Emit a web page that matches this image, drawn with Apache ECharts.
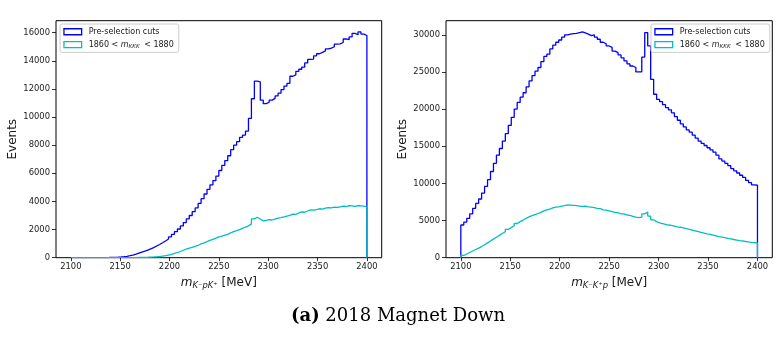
<!DOCTYPE html>
<html><head><meta charset="utf-8">
<script src="https://cdn.jsdelivr.net/npm/echarts@6/dist/echarts.min.js"></script>
<style>html,body{margin:0;padding:0;background:#fff}#c{width:784px;height:338px}</style>
</head><body><div id="c"></div>
<script>
// ---- data ----
const binStart = 2100;
const binWidth = 3;
const xTicks = [2100, 2150, 2200, 2250, 2300, 2350, 2400];
const yTicksLeft = [0, 2000, 4000, 6000, 8000, 10000, 12000, 14000, 16000];
const yTicksRight = [0, 5000, 10000, 15000, 20000, 25000, 30000];
const seriesNames = ['Pre-selection cuts', '1860 < m_KKK < 1880'];

// left panel: m(K- p K+)
const kpkPre = [
  0, 0, 0, 0, 0, 1, 2, 3, 4, 6,
  8, 12, 16, 22, 30, 40, 55, 75, 100, 140,
  190, 250, 320, 390, 460, 540, 630, 720, 830, 940,
  1060, 1190, 1330, 1480, 1660, 1850, 2040, 2260, 2500, 2760,
  3000, 3270, 3540, 3860, 4200, 4530, 4860, 5180, 5480, 5800,
  6200, 6560, 6900, 7250, 7680, 8000, 8250, 8560, 8720, 9000,
  9900, 11300, 12550, 12500, 11200, 10950, 11050, 11200, 11330, 11500,
  11700, 11950, 12200, 12400, 12900, 13000, 13250, 13400, 13550, 13850,
  14100, 14120, 14350, 14500, 14600, 14700, 14850, 14900, 15000, 15180,
  15200, 15300, 15550, 15500, 15700, 15950, 15850, 16050, 15900, 15800
];
const kpkSel = [
  0, 0, 0, 0, 0, 0, 0, 0, 0, 0,
  0, 0, 1, 1, 2, 2, 3, 4, 5, 7,
  9, 12, 16, 20, 26, 33, 42, 52, 65, 85,
  110, 145, 190, 235, 300, 370, 440, 530, 610, 680,
  740, 800, 870, 990, 1060, 1140, 1230, 1300, 1390, 1480,
  1530, 1600, 1660, 1760, 1850, 1920, 2000, 2080, 2180, 2260,
  2400, 2760, 2880, 2750, 2620, 2650, 2700, 2680, 2750, 2810,
  2850, 2900, 2960, 3010, 3100, 3080, 3180, 3250, 3230, 3320,
  3400, 3380, 3420, 3480, 3450, 3520, 3560, 3540, 3600, 3570,
  3620, 3660, 3640, 3700, 3680, 3650, 3710, 3690, 3660, 3620
];
// right panel: m(K- K+ p)
const kkpPre = [
  4400, 4800, 5300, 5900, 6650, 7300, 7900, 8700, 9600, 10500,
  11600, 12700, 13800, 14700, 15700, 16700, 17800, 18900, 20000, 20900,
  21600, 22200, 23000, 23800, 24500, 25100, 25600, 26400, 27100, 27400,
  28100, 28600, 29000, 29300, 29700, 30000, 30100, 30150, 30200, 30300,
  30400, 30250, 30100, 29900, 30000, 29700, 29400, 29000, 28800, 28500,
  28300, 27800, 27600, 27300, 26900, 26500, 26100, 25800, 25600, 25000,
  25000, 27000, 30300, 28500, 24000, 22000, 21300, 21000, 20600, 20200,
  19900, 19500, 19000, 18500, 18000, 17600, 17200, 16900, 16500, 16100,
  15700, 15400, 15100, 14800, 14500, 14200, 13800, 13300, 13000, 12700,
  12400, 12000, 11700, 11400, 11100, 10800, 10400, 10100, 9800, 9750
];
const kkpSel = [
  300, 500, 700, 900, 1100, 1280, 1500, 1750, 2000, 2250,
  2500, 2750, 3000, 3250, 3500, 3800, 4050, 4300, 4600, 4850,
  5050, 5300, 5500, 5650, 5800, 5950, 6100, 6300, 6450, 6550,
  6700, 6800, 6850, 6950, 7000, 7100, 7080, 7050, 7000, 6950,
  6900, 6950, 6850, 6800, 6750, 6650, 6600, 6450, 6400, 6300,
  6200, 6100, 6050, 5900, 5900, 5750, 5700, 5550, 5450, 5400,
  5450, 5900, 6150, 5600, 5100, 4850, 4700, 4600, 4500, 4400,
  4350, 4250, 4150, 4100, 4000, 3900, 3800, 3700, 3600, 3500,
  3400, 3300, 3200, 3150, 3050, 2950, 2850, 2780, 2700, 2600,
  2530, 2450, 2380, 2300, 2250, 2180, 2120, 2070, 2030, 1980
];

// ---- styling ----
const BLUE = '#0000ff';
const CYAN = '#00bfbf';
const TXT = '#1a1a1a';
const FONT = 'DejaVu Sans';

function stairs(values) {
  const pts = [[binStart, 0]];
  values.forEach(function (v, i) {
    const a = binStart + i * binWidth;
    pts.push([a, v], [a + binWidth, v]);
  });
  pts.push([binStart + values.length * binWidth, 0]);
  return pts;
}
function plain(v) { return String(v); }

function xAxisFor(idx, sub) {
  return {
    gridIndex: idx, type: 'value', min: 2085, max: 2415,
    axisLine: { show: false }, splitLine: { show: false },
    axisTick: { show: true, length: 3.5, customValues: xTicks, lineStyle: { color: '#000', width: 0.8 } },
    axisLabel: { customValues: xTicks, formatter: plain, fontSize: 8.4, fontFamily: FONT, color: TXT, margin: 5 },
    name: '{m|m}{s|' + sub + '}{t| [MeV]}',
    nameLocation: 'middle', nameGap: 15.5,
    nameTextStyle: {
      fontFamily: FONT, fontSize: 12, color: TXT, lineHeight: 14,
      rich: {
        m: { fontFamily: FONT, fontStyle: 'italic', fontSize: 12, color: TXT, lineHeight: 14 },
        s: { fontFamily: FONT, fontStyle: 'italic', fontSize: 8.4, color: TXT, lineHeight: 8, verticalAlign: 'bottom' },
        t: { fontFamily: FONT, fontSize: 12, color: TXT, lineHeight: 14 }
      }
    }
  };
}
function yAxisFor(idx, max, ticks) {
  return {
    gridIndex: idx, type: 'value', min: 0, max: max,
    axisLine: { show: false }, splitLine: { show: false },
    axisTick: { show: true, length: 4, customValues: ticks, lineStyle: { color: '#000', width: 0.8 } },
    axisLabel: { customValues: ticks, formatter: plain, fontSize: 8.4, fontFamily: FONT, color: TXT, margin: 6 },
    name: 'Events', nameLocation: 'middle', nameGap: 37.5, nameRotate: 90,
    nameTextStyle: { fontFamily: FONT, fontSize: 12, color: TXT }
  };
}
function legendFor(pos) {
  return Object.assign({
    top: 24, orient: 'vertical', icon: 'rect',
    itemWidth: 17.7, itemHeight: 6, itemGap: 2.4,
    padding: [2.5, 5, 2.5, 3.3],
    backgroundColor: 'rgba(255,255,255,0.8)', borderColor: '#cccccc', borderWidth: 1, borderRadius: 2,
    selectedMode: false,
    data: [
      { name: seriesNames[0], itemStyle: { color: 'rgba(0,0,0,0)', borderColor: BLUE, borderWidth: 1.3 } },
      { name: seriesNames[1], itemStyle: { color: 'rgba(0,0,0,0)', borderColor: CYAN, borderWidth: 1.3 } }
    ],
    formatter: function (n) {
      return n === seriesNames[1] ? '{r|1860 < }{i|m}{s|KKK}{r| < 1880}' : '{r|' + n + '}';
    },
    textStyle: {
      fontFamily: FONT, fontSize: 8, color: TXT, lineHeight: 10.5,
      rich: {
        r: { fontFamily: FONT, fontSize: 8, color: TXT, lineHeight: 10.5, padding: [0, 0, 0, 2] },
        i: { fontFamily: FONT, fontStyle: 'italic', fontSize: 8, color: TXT, lineHeight: 10.5 },
        s: { fontFamily: FONT, fontStyle: 'italic', fontSize: 5.6, color: TXT, lineHeight: 6, verticalAlign: 'bottom' }
      }
    }
  }, pos);
}
function lineSeries(name, xi, data, color) {
  return {
    type: 'line', name: name, xAxisIndex: xi, yAxisIndex: xi,
    data: stairs(data), symbol: 'none', showSymbol: false, silent: true, clip: true,
    lineStyle: { color: color, width: 1.3 }, itemStyle: { color: color }
  };
}

const chart = echarts.init(document.getElementById('c'), null, { renderer: 'canvas' });
chart.setOption({
  animation: false,
  backgroundColor: '#ffffff',
  grid: [
    { left: 56, top: 20.7, width: 325.7, height: 237, show: true, borderColor: '#000', borderWidth: 1, backgroundColor: 'transparent' },
    { left: 446, top: 20.7, width: 326.3, height: 237, show: true, borderColor: '#000', borderWidth: 1, backgroundColor: 'transparent' }
  ],
  xAxis: [xAxisFor(0, 'K\u207BpK\u207A'), xAxisFor(1, 'K\u207BK\u207Ap')],
  yAxis: [yAxisFor(0, 16850, yTicksLeft), yAxisFor(1, 31900, yTicksRight)],
  legend: [legendFor({ left: 60 }), legendFor({ left: 651 })],
  series: [
    lineSeries(seriesNames[0], 0, kpkPre, BLUE),
    lineSeries(seriesNames[1], 0, kpkSel, CYAN),
    lineSeries(seriesNames[0], 1, kkpPre, BLUE),
    lineSeries(seriesNames[1], 1, kkpSel, CYAN)
  ],
  graphic: [{
    type: 'text', x: 398, y: 316, silent: true,
    style: {
      text: '{b|(a)} 2018 Magnet Down',
      fontFamily: 'DejaVu Serif', fontSize: 18, fill: '#000',
      align: 'center', verticalAlign: 'middle',
      rich: { b: { fontFamily: 'DejaVu Serif', fontWeight: 'bold', fontSize: 18, fill: '#000' } }
    }
  }]
});
</script>
</body></html>
